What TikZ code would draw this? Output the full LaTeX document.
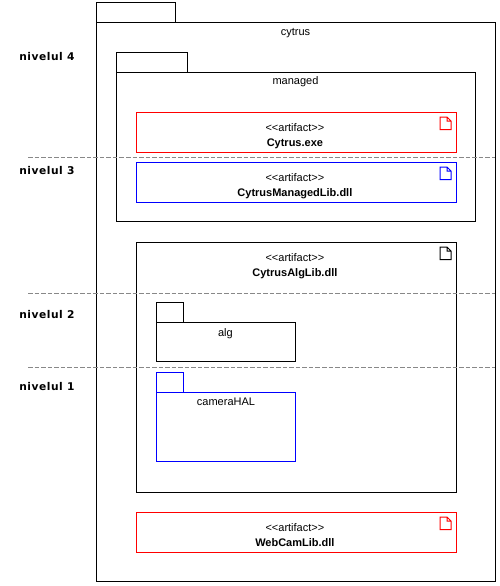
\documentclass[tikz,border=0pt]{standalone}
\usepackage{fontspec}
\setmainfont{Liberation Sans}
\newfontfamily\levelfont[LetterSpace=5]{DejaVu Sans}
\usetikzlibrary{positioning}
\definecolor{sepgray}{RGB}{136, 136, 136}

\begin{document}
\begin{tikzpicture}[
    x=0.75pt, y=-0.75pt,
    box/.style={draw, rectangle, line width=0.75pt, inner sep=0pt, outer sep=0pt, anchor=north west},
    title/.style={inner sep=0pt, font=\fontsize{8.25}{10}\selectfont, align=center},
    level/.style={inner sep=0pt, anchor=west, font=\levelfont\bfseries\fontsize{8}{9}\selectfont},
    sep/.style={draw=sepgray, dash pattern=on 3.4pt off 1.5pt, line width=0.75pt}
]
    \useasboundingbox (0,0) rectangle (500,586);

    % Packages: name / colour / x / y / width / tab width / tab height / body height
    \foreach \name/\col/\x/\y/\w/\t/\h in {
        cytrus/black/96.5/2.5/399/79/559,
        managed/black/116.5/52.5/359/71/149,
        alg/black/156.5/302.5/139/27/39,
        camerahal/blue/156.5/372.5/139/27/69} {
        \node[box, draw=\col, minimum width=\t*0.75pt, minimum height=15pt] (\name tab) at (\x, \y) {};
        \node[box, draw=\col, minimum width=\w*0.75pt, minimum height=\h*0.75pt, below=0pt of \name tab.south west, anchor=north west] (\name) {};
    }

    % Package names
    \node[title, below=4.2pt of cytrus.north, xshift=-0.4pt] (cytruslabel) {cytrus};
    \node[title, below=2.6pt of managed.north, xshift=-0.4pt] (managedlabel) {managed};
    \node[title, below=4pt of alg.north, xshift=-0.4pt] (alglabel) {alg};
    \node[title, below=4pt of camerahal.north] (camerahallabel) {cameraHAL};

    % Artifacts: name / colour / y / height / file name
    \foreach \name/\col/\y/\h/\file in {
        cytrusexe/red/112.5/40/Cytrus.exe,
        cytrusmanaged/blue/162.5/40/CytrusManagedLib.dll,
        cytrusalg/black/242.5/250/CytrusAlgLib.dll,
        webcam/red/512.5/40/WebCamLib.dll} {
        \node[box, draw=\col, minimum width=240pt, minimum height=\h*0.75pt] (\name) at (136.5, \y) {};
        \node[title, below=8.2pt of \name.north, xshift=-1.2pt] (\name label) {<{}<artifact>{}>\\[1.2pt]\textbf{\file}};
        % Document icon
        \draw[\col, line width=0.75pt, line join=miter]
            ([xshift=-16.5*0.75pt, yshift=-4.5*0.75pt]\name.north east)
            -- ++(7,0) -- ++(4,4) -- ++(0,8.5) -- ++(-11,0) -- cycle
            ([xshift=-9.5*0.75pt, yshift=-4.5*0.75pt]\name.north east) -- ++(0,4) -- ++(4,0);
    }

    % Levels
    \node[level] (level4) at (19, 56.5) {nivelul 4};
    \node[level] (level3) at (19, 170.5) {nivelul 3};
    \node[level] (level2) at (19, 314.5) {nivelul 2};
    \node[level] (level1) at (19, 386.5) {nivelul 1};

    % Separators
    \foreach \y in {157.5, 293.5, 367.5} {
        \draw[sep] (28, \y) -- (495, \y);
    }
\end{tikzpicture}
\end{document}
